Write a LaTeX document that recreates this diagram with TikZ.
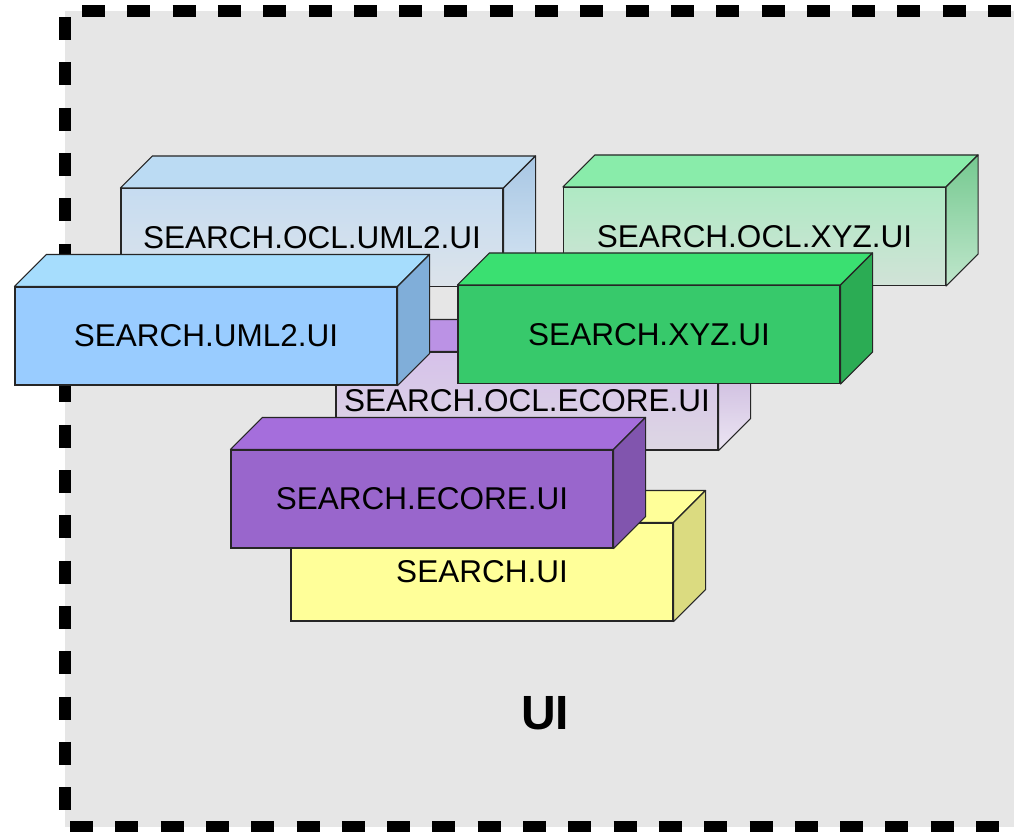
\documentclass[tikz,border=0pt]{standalone}
\usepackage{xcolor}
\usepackage{fontspec}
\setmainfont{Liberation Sans}

\definecolor{bggray}{HTML}{E6E6E6}
\definecolor{umlfront}{HTML}{99CCFF}
\definecolor{umltop}{HTML}{A6DDFD}
\definecolor{umlside}{HTML}{80AED9}
\definecolor{oclumlhi}{HTML}{C6DCF1}
\definecolor{oclumllo}{HTML}{DCE3EA}
\definecolor{oclumltop}{HTML}{BBDBF3}
\definecolor{oclumlside}{HTML}{A8C7E4}
\definecolor{xyzfront}{HTML}{37C96B}
\definecolor{xyztop}{HTML}{3AE071}
\definecolor{xyzside}{HTML}{2BAC54}
\definecolor{ecofront}{HTML}{9966CC}
\definecolor{ecotop}{HTML}{A56EDC}
\definecolor{ecoside}{HTML}{8155AE}
\definecolor{suifront}{HTML}{FFFF99}
\definecolor{suiside}{HTML}{DBDB80}

\begin{document}
\begin{tikzpicture}[x=1pt,y=-1pt]
        % Define styles
        \tikzset{
            module/.style={rectangle, draw=black!85, line width=1.1pt, minimum width=382pt, minimum height=98pt, inner sep=0pt, font=\fontsize{31.5}{36}\selectfont},
            face/.style={draw=black!85, line width=1.1pt, line join=round},
            border/.style={line width=12pt, dash pattern=on 23pt off 22.3pt}
        }

        \useasboundingbox (0,0) rectangle (1014,832);
        \clip (0,0) rectangle (1014,832);

        % Background
        \fill[bggray] (65,11) rectangle (1030,826.5);
        \draw[border, dash phase=28.3pt] (65,11) -- (1014,11);
        \draw[border, dash phase=39.3pt] (65,11) -- (65,826.5);
        \draw[border, dash phase=40.3pt] (65,826.5) -- (1014,826.5);

        % Boxes
        \node[module, top color=oclumlhi, bottom color=oclumllo] (ocl_uml) at (312,237.5) {SEARCH.OCL.UML2.UI};
        \draw[face, fill=oclumltop] (ocl_uml.north west) -- ([shift={(32,-32)}]ocl_uml.north west) -- ([shift={(32,-32)}]ocl_uml.north east) -- (ocl_uml.north east) -- cycle;
        \draw[face, top color=oclumlside, bottom color=oclumlside!45!white] (ocl_uml.north east) -- ([shift={(32,-32)}]ocl_uml.north east) -- ([shift={(32,-32)}]ocl_uml.south east) -- (ocl_uml.south east) -- cycle;

        \node[module, top color=xyzfront!40!white, bottom color=xyzfront!12!bggray] (ocl_xyz) at (754.5,236.5) {SEARCH.OCL.XYZ.UI};
        \draw[face, fill=xyztop!60!white] (ocl_xyz.north west) -- ([shift={(32,-32)}]ocl_xyz.north west) -- ([shift={(32,-32)}]ocl_xyz.north east) -- (ocl_xyz.north east) -- cycle;
        \draw[face, top color=xyzside!65!white, bottom color=xyzside!30!white] (ocl_xyz.north east) -- ([shift={(32,-32)}]ocl_xyz.north east) -- ([shift={(32,-32)}]ocl_xyz.south east) -- (ocl_xyz.south east) -- cycle;

        \node[module, top color=ecofront!40!white, bottom color=ecofront!12!bggray] (ocl_eco) at (527,401) {SEARCH.OCL.ECORE.UI};
        \draw[face, fill=ecotop!75!white] (ocl_eco.north west) -- ([shift={(32,-32)}]ocl_eco.north west) -- ([shift={(32,-32)}]ocl_eco.north east) -- (ocl_eco.north east) -- cycle;
        \draw[face, top color=ecoside!55!white, bottom color=ecoside!15!white] (ocl_eco.north east) -- ([shift={(32,-32)}]ocl_eco.north east) -- ([shift={(32,-32)}]ocl_eco.south east) -- (ocl_eco.south east) -- cycle;

        \node[module, fill=umlfront] (uml) at (206,336) {SEARCH.UML2.UI};
        \draw[face, fill=umltop] (uml.north west) -- ([shift={(32,-32)}]uml.north west) -- ([shift={(32,-32)}]uml.north east) -- (uml.north east) -- cycle;
        \draw[face, fill=umlside] (uml.north east) -- ([shift={(32,-32)}]uml.north east) -- ([shift={(32,-32)}]uml.south east) -- (uml.south east) -- cycle;

        \node[module, fill=xyzfront] (xyz) at (649,334.5) {SEARCH.XYZ.UI};
        \draw[face, fill=xyztop] (xyz.north west) -- ([shift={(32,-32)}]xyz.north west) -- ([shift={(32,-32)}]xyz.north east) -- (xyz.north east) -- cycle;
        \draw[face, fill=xyzside] (xyz.north east) -- ([shift={(32,-32)}]xyz.north east) -- ([shift={(32,-32)}]xyz.south east) -- (xyz.south east) -- cycle;

        \node[module, fill=suifront] (sui) at (482,572) {SEARCH.UI};
        \draw[face, fill=suifront] (sui.north west) -- ([shift={(32,-32)}]sui.north west) -- ([shift={(32,-32)}]sui.north east) -- (sui.north east) -- cycle;
        \draw[face, fill=suiside] (sui.north east) -- ([shift={(32,-32)}]sui.north east) -- ([shift={(32,-32)}]sui.south east) -- (sui.south east) -- cycle;

        \node[module, fill=ecofront] (eco) at (422,499) {SEARCH.ECORE.UI};
        \draw[face, fill=ecotop] (eco.north west) -- ([shift={(32,-32)}]eco.north west) -- ([shift={(32,-32)}]eco.north east) -- (eco.north east) -- cycle;
        \draw[face, fill=ecoside] (eco.north east) -- ([shift={(32,-32)}]eco.north east) -- ([shift={(32,-32)}]eco.south east) -- (eco.south east) -- cycle;

        % Layer name
        \node[font=\bfseries\fontsize{48}{56}\selectfont] (ui_label) at (545,713.5) {UI};
    \end{tikzpicture}
\end{document}
